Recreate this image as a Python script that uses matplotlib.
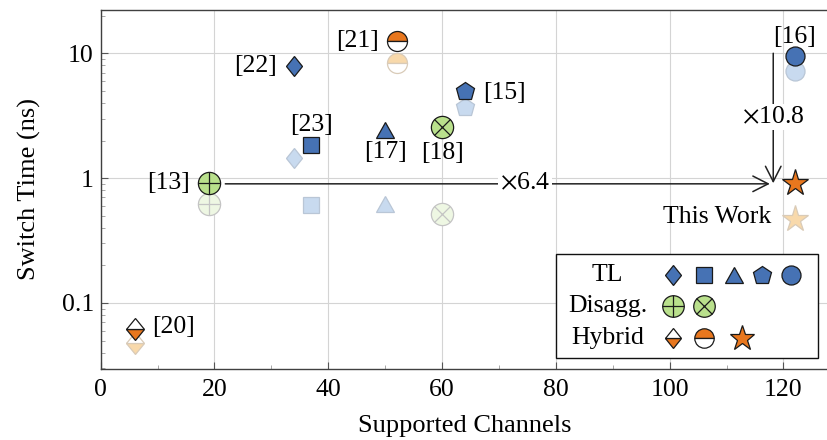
import numpy as np
import matplotlib
matplotlib.use('Agg')
import matplotlib.pyplot as plt
from matplotlib.markers import MarkerStyle
from matplotlib.transforms import Affine2D
from matplotlib.patches import Rectangle

plt.rcParams['font.family'] = ['Liberation Serif', 'DejaVu Serif']
plt.rcParams['mathtext.fontset'] = 'stix'
FS = 18.5

# data
tl_labels = ['[22]', '[23]', '[17]', '[15]', '[16]']
tl_channels = [34, 37, 50, 64, 122]
tl_time = [7.9, 1.84, 2.43, 5.0, 9.5]
tl_time_faded = [1.45, 0.61, 0.62, 3.7, 7.2]

disagg_labels = ['[13]', '[18]']
disagg_channels = [19, 60]
disagg_time = [0.91, 2.56]
disagg_time_faded = [0.62, 0.52]

hybrid_labels = ['[20]', '[21]', 'This Work']
hybrid_channels = [6, 52, 122]
hybrid_time = [0.062, 12.6, 0.91]
hybrid_time_faded = [0.048, 8.4, 0.47]

# improvement arrows: (start, end, label position)
gain_labels = [r'$\times$6.4', r'$\times$10.8']
gain_start = [(21.9, 0.9), (118.2, 10.0)]
gain_end = [(117.6, 0.9), (118.2, 0.91)]
gain_text_pos = [(74.6, 0.9), (118.2, 3.08)]

# colours
BLUE, BLUE_F = '#4672b4', '#c8daef'
GREEN, GREEN_F = '#b9e08c', '#eef7e3'
ORANGE, ORANGE_F = '#e8771e', '#f8d9ab'
EDGE, EDGE_F = '#1a1a1a', '#c4c4c4'


def diamond(fill='full', sx=0.79):
    return MarkerStyle('D', fillstyle=fill, transform=Affine2D().scale(sx, 1.0))


def triangle():
    return MarkerStyle('^', transform=Affine2D().scale(1.0, 0.88))


# marker style per point
tl_markers = [(diamond(), 9.7), ('s', 12.0), (triangle(), 13.5), ('p', 13.6), ('o', 13.7)]
hybrid_markers = [(diamond('bottom', 0.81), 10.7), (MarkerStyle('o', fillstyle='top'), 14.4), ('*', 19.5)]

# label offsets in pixels (dx, dy, ha)
tl_offsets = [(-17, 0, 'right'), (0, 20, 'center'), (0, -22, 'center'), (18, -2, 'left'), (0, 19, 'center')]
disagg_offsets = [(-19, 0, 'right'), (0, -26, 'center')]
hybrid_offsets = [(17, 2, 'left'), (-18, 0, 'right'), (-24, -34, 'right')]

fig = plt.figure(figsize=(8.28, 4.4), dpi=100)
ax = fig.add_axes([100.7 / 828, 71 / 440, 728.3 / 828, 359 / 440])


def draw_plain(x, y, marker, ms, face, edge, z, alt='white', **kw):
    ax.plot([x], [y], linestyle='none', marker=marker, ms=ms, mfc=face, mfcalt=alt,
            mec=edge, mew=0.9, zorder=z, **kw)


def draw_circ(x, y, kind, face, edge, z, ms=16, **kw):
    ax.plot([x], [y], linestyle='none', marker='o', ms=ms, mfc=face, mec=edge, mew=0.9, zorder=z, **kw)
    if kind == '+':
        ax.plot([x], [y], linestyle='none', marker='+', ms=ms, mec=edge, mew=0.9, zorder=z, **kw)
    else:
        ax.plot([x], [y], linestyle='none', marker='x', ms=ms / np.sqrt(2), mec=edge, mew=0.9, zorder=z, **kw)


# TL
for i in range(len(tl_channels)):
    m, ms = tl_markers[i]
    draw_plain(tl_channels[i], tl_time_faded[i], m, ms, BLUE_F, '#b9c6d6', 3)
    draw_plain(tl_channels[i], tl_time[i], m, ms, BLUE, EDGE, 4)

# Disaggregated
disagg_kinds = ['+', 'x']
for i in range(len(disagg_channels)):
    draw_circ(disagg_channels[i], disagg_time_faded[i], disagg_kinds[i], GREEN_F, EDGE_F, 3)
    draw_circ(disagg_channels[i], disagg_time[i], disagg_kinds[i], GREEN, EDGE, 4)

# Hybrid
for i in range(len(hybrid_channels)):
    m, ms = hybrid_markers[i]
    draw_plain(hybrid_channels[i], hybrid_time_faded[i], m, ms, ORANGE_F, '#d9cbb8', 3)
    draw_plain(hybrid_channels[i], hybrid_time[i], m, ms, ORANGE, EDGE, 4)

# labels
for xs, ys, labs, offs in [(tl_channels, tl_time, tl_labels, tl_offsets),
                           (disagg_channels, disagg_time, disagg_labels, disagg_offsets),
                           (hybrid_channels, hybrid_time, hybrid_labels, hybrid_offsets)]:
    for x, y, lab, (dx, dy, ha) in zip(xs, ys, labs, offs):
        ax.annotate(lab, (x, y), xytext=(dx, dy), textcoords='offset pixels',
                    ha=ha, va='center', fontsize=FS, zorder=5)

# arrows
for s, e, tp, lab in zip(gain_start, gain_end, gain_text_pos, gain_labels):
    ax.annotate('', xy=e, xytext=s,
                arrowprops=dict(arrowstyle='->,head_length=0.55,head_width=0.28',
                                lw=1.1, color='#222222', mutation_scale=20,
                                shrinkA=0, shrinkB=0), zorder=2)
    ax.text(tp[0], tp[1], lab, ha='center', va='center', fontsize=FS, zorder=2.5,
            bbox=dict(facecolor='white', edgecolor='none', pad=1.5))

ax.set_yscale('log')
ax.set_xlim(0, 128)
ax.set_ylim(0.0296, 22.2)
ax.set_xticks([0, 20, 40, 60, 80, 100, 120])
ax.set_xticks([10, 30, 50, 70, 90, 110], minor=True)
ax.set_yticks([0.1, 1, 10])
ax.set_yticklabels(['0.1', '1', '10'])
ax.grid(True, which='major', color='#d4d4d4', lw=0.8, zorder=0)
ax.set_axisbelow(True)
ax.tick_params(which='both', direction='in', labelsize=FS, color='#555555')
ax.tick_params(which='major', length=5)
ax.tick_params(axis='y', which='major', pad=5)
ax.tick_params(axis='x', which='major', pad=7)
ax.tick_params(which='minor', length=3, color='#999999')
for sp in ax.spines.values():
    sp.set_color('#404040')
    sp.set_linewidth(1.0)
ax.set_xlabel('Supported Channels', fontsize=19, labelpad=10)
ax.set_ylabel('Switch Time (ns)', fontsize=19, labelpad=15)

# legend box
ax.add_patch(Rectangle((0.6247, 0.0315), 0.3606, 0.288, transform=ax.transAxes,
                       facecolor='white', edgecolor='#111111', lw=1.0, zorder=6, clip_on=False))
leg_rows = ['TL', 'Disagg.', 'Hybrid']
leg_y = [0.262, 0.176, 0.087]
for lab, y in zip(leg_rows, leg_y):
    ax.text(0.696, y, lab, transform=ax.transAxes, ha='center', va='center', fontsize=FS, zorder=7)

tl_leg_x = [0.786, 0.829, 0.870, 0.908, 0.948]
for (m, ms), x in zip(tl_markers, tl_leg_x):
    ax.plot([x], [leg_y[0]], transform=ax.transAxes, linestyle='none', marker=m, ms=ms,
            mfc=BLUE, mec=EDGE, mew=0.9, zorder=8, clip_on=False)
for kind, x in zip(disagg_kinds, [0.786, 0.829]):
    draw_circ(x, leg_y[1], kind, GREEN, EDGE, 8, ms=15.5, transform=ax.transAxes, clip_on=False)
for (m, ms), x in zip(hybrid_markers, [0.786, 0.829, 0.881]):
    ax.plot([x], [leg_y[2]], transform=ax.transAxes, linestyle='none', marker=m, ms=ms * 0.97,
            mfc=ORANGE, mfcalt='white', mec=EDGE, mew=0.9, zorder=8, clip_on=False)

fig.savefig('out.png', dpi=100)
